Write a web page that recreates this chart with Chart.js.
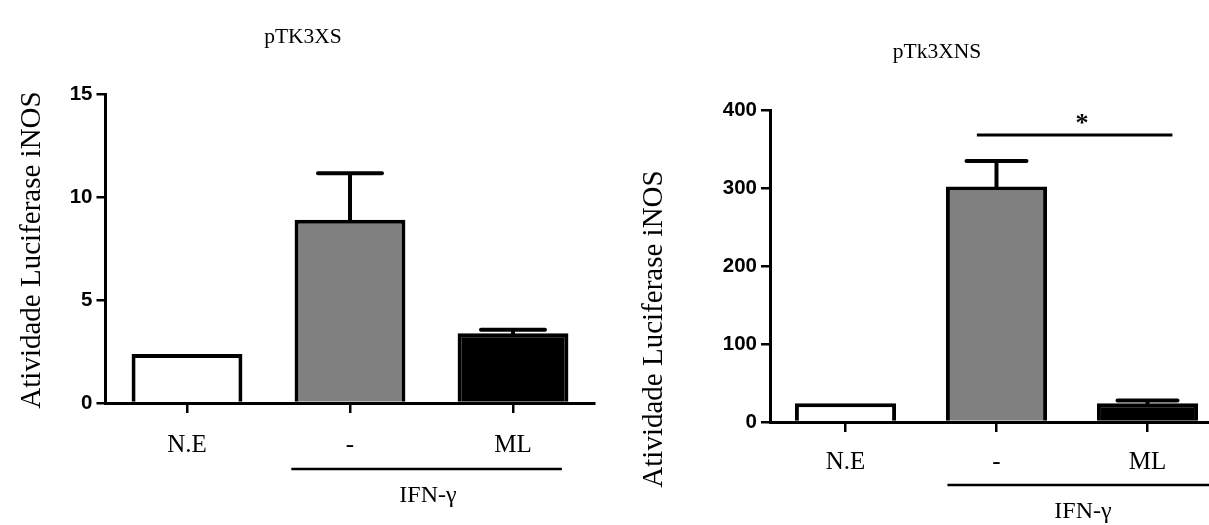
<!DOCTYPE html>
<html>
<head>
<meta charset="utf-8">
<script src="https://cdn.jsdelivr.net/npm/chart.js@4"></script>
<style>
  html, body { margin: 0; padding: 0; background: #fff; overflow: hidden; }
  body { width: 1209px; height: 525px; position: relative; }
  .panel { position: absolute; top: 0; }
  #left { left: 0; }
  #right { left: 600px; }
</style>
</head>
<body>
<div class="panel" id="left"><canvas id="chartXS" width="600" height="525"></canvas></div>
<div class="panel" id="right"><canvas id="chartXNS" width="630" height="525"></canvas></div>
<script>
// categories and bar fills (N.E = not stimulated, IFN-y alone, IFN-y + ML)
const categories = ['N.E', '-', 'ML'];
const barColors = ['#ffffff', '#808080', '#000000'];

// pTK3XS panel
const xsValues = [2.38, 8.9, 3.38];
const xsErrTop = [null, 11.15, 3.56];
const xsTicks = [0, 5, 10, 15];

// pTk3XNS panel
const xnsValues = [24, 302, 24];
const xnsErrTop = [null, 334.5, 27.5];
const xnsTicks = [0, 100, 200, 300, 400];
const xnsSignif = 368; // level of the * bracket

const serif = '"Liberation Serif", "Times New Roman", serif';
const sans = '"Liberation Sans", Arial, sans-serif';

// error bars, group bracket, titles and the significance mark
const annotPlugin = {
  id: 'annot',
  afterDraw(chart, args, o) {
    const ctx = chart.ctx;
    const xs = chart.scales.x, ys = chart.scales.y;
    const meta = chart.getDatasetMeta(0);
    const err = chart.data.datasets[0].errTop;
    const bottom = chart.chartArea.bottom;
    ctx.save();
    ctx.strokeStyle = '#000';
    ctx.fillStyle = '#000';

    // error bars (upper side only)
    ctx.lineWidth = 4;
    ctx.lineCap = 'round';
    meta.data.forEach((bar, i) => {
      if (err[i] == null) return;
      const yt = ys.getPixelForValue(err[i]);
      ctx.beginPath();
      ctx.moveTo(bar.x, bar.y);
      ctx.lineTo(bar.x, yt);
      ctx.moveTo(bar.x - o.capHalf, yt);
      ctx.lineTo(bar.x + o.capHalf, yt);
      ctx.stroke();
    });

    // IFN-y bracket under the axis
    ctx.lineCap = 'butt';
    ctx.lineWidth = 2.5;
    const gy = bottom + o.groupOffset;
    ctx.beginPath();
    ctx.moveTo(xs.getPixelForValue(o.groupFrom), gy);
    ctx.lineTo(xs.getPixelForValue(o.groupTo), gy);
    ctx.stroke();
    ctx.font = '24px ' + serif;
    ctx.textAlign = 'center';
    ctx.textBaseline = 'alphabetic';
    ctx.fillText('IFN-\u03b3', o.groupLabelX, bottom + o.groupLabelOffset);

    // significance bracket
    if (o.signif != null) {
      const sy = ys.getPixelForValue(o.signif);
      ctx.lineWidth = 3;
      ctx.beginPath();
      ctx.moveTo(xs.getPixelForValue(o.signifFrom), sy);
      ctx.lineTo(xs.getPixelForValue(o.signifTo), sy);
      ctx.stroke();
      ctx.font = 'bold 26px ' + serif;
      ctx.fillText('*', o.starX, sy - 4);
    }

    // panel title
    ctx.font = '21.5px ' + serif;
    ctx.textBaseline = 'middle';
    ctx.fillText(o.title, o.titleX, o.titleY);

    // rotated y title
    ctx.font = '29px ' + serif;
    ctx.textBaseline = 'alphabetic';
    ctx.translate(o.yTitleX, o.yTitleY);
    ctx.rotate(-Math.PI / 2);
    ctx.fillText('Atividade Luciferase iNOS', 0, 0);
    ctx.restore();
  }
};

function makeChart(id, values, errTop, ticks, yMax, geo, annot) {
  return new Chart(document.getElementById(id), {
    type: 'bar',
    data: {
      labels: categories,
      datasets: [{
        data: values,
        errTop: errTop,
        backgroundColor: barColors,
        borderColor: '#000',
        borderWidth: 4,
        barPercentage: geo.barPct,
        categoryPercentage: 1
      }]
    },
    options: {
      responsive: false,
      animation: false,
      events: [],
      layout: { padding: { top: geo.top, right: geo.right, left: 0, bottom: 0 } },
      plugins: { legend: { display: false }, tooltip: { enabled: false }, annot: annot },
      scales: {
        x: {
          z: 1,
          afterFit: s => { s.height = geo.xHeight; },
          grid: { offset: false, drawOnChartArea: false, tickLength: 10, lineWidth: 2.5, color: '#000' },
          border: { color: '#000', width: 3 },
          ticks: { color: '#000', padding: geo.xPad, font: { family: serif, size: 25 } }
        },
        y: {
          min: 0,
          max: yMax,
          afterFit: s => { s.width = geo.yWidth; },
          afterBuildTicks: s => { s.ticks = ticks.map(v => ({ value: v })); },
          grid: { drawOnChartArea: false, tickLength: 9, lineWidth: 2.5, color: '#000' },
          border: { color: '#000', width: 3 },
          ticks: { color: '#000', padding: 4, font: { family: sans, size: 20.5, weight: 'bold' } }
        }
      }
    },
    plugins: [annotPlugin]
  });
}

makeChart('chartXS', xsValues, xsErrTop, xsTicks, 15,
  { top: 94, right: 5.5, yWidth: 105.5, xHeight: 122, xPad: 17, barPct: 0.68 },
  { capHalf: 32, groupFrom: 0.64, groupTo: 2.3, groupOffset: 66, groupLabelX: 428, groupLabelOffset: 99,
    signif: null, title: 'pTK3XS', titleX: 303, titleY: 37, yTitleX: 40, yTitleY: 250 });

makeChart('chartXNS', xnsValues, xnsErrTop, xnsTicks, 400,
  { top: 110, right: 7, yWidth: 170, xHeight: 103, xPad: 15, barPct: 0.67 },
  { capHalf: 30, groupFrom: 0.675, groupTo: 2.7, groupOffset: 63, groupLabelX: 483, groupLabelOffset: 96,
    signif: xnsSignif, signifFrom: 0.87, signifTo: 2.165, starX: 482,
    title: 'pTk3XNS', titleX: 337, titleY: 52, yTitleX: 62, yTitleY: 329 });
</script>
</body>
</html>
